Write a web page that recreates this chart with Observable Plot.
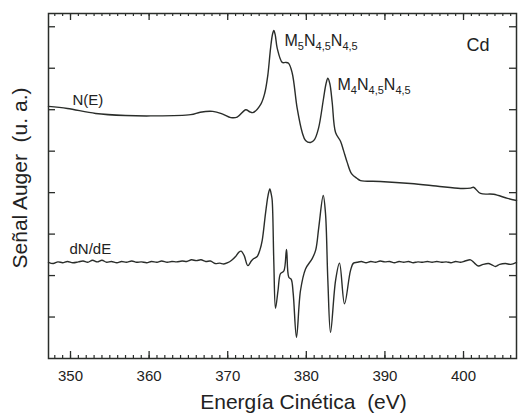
<!DOCTYPE html>
<html>
<head>
<meta charset="utf-8">
<script src="https://cdn.jsdelivr.net/npm/d3@7"></script>
<script src="https://cdn.jsdelivr.net/npm/@observablehq/plot@0.6"></script>
<style>
  html, body { margin: 0; padding: 0; background: #fff; }
</style>
</head>
<body>
<div id="chart"></div>
<script>
// ---- Data ----
const energyN = [347.2, 349.6, 353.2, 357.0, 360.2, 365.3, 366.5, 368.1, 369.3, 370.4, 371.2, 372.3, 372.8, 373.2, 374.2, 374.7, 375.1, 375.45, 375.7, 375.87, 376.05, 376.3, 376.94, 377.35, 377.74, 378.21, 378.84, 379.48, 379.9, 380.53, 381.04, 381.55, 382.19, 382.5, 382.74, 383.0, 383.29, 383.72, 384.35, 384.73, 385.2, 385.75, 386.47, 386.9, 389.4, 393.26, 396.5, 399.62, 400.9, 401.27, 402.16, 403.82, 405.6, 406.74];
const signalN = [6.08, 6.03, 5.91, 5.86, 5.85, 5.88, 5.94, 5.96, 5.90, 5.81, 5.82, 6.00, 5.95, 5.93, 6.13, 6.39, 6.83, 7.48, 7.82, 7.91, 7.80, 7.48, 7.14, 7.14, 7.12, 6.88, 6.03, 5.45, 5.26, 5.21, 5.28, 5.55, 6.27, 6.62, 6.76, 6.62, 6.18, 5.45, 5.24, 5.02, 4.73, 4.46, 4.34, 4.29, 4.27, 4.22, 4.16, 4.10, 4.11, 4.13, 3.98, 3.96, 3.86, 3.81];

const energyD = [347.2, 347.8, 348.4, 349.0, 349.6, 350.3, 351.0, 351.6, 352.2, 352.8, 353.4, 354.0, 354.6, 355.2, 355.9, 356.5, 357.1, 357.8, 358.4, 359.0, 359.7, 360.3, 361.0, 361.6, 362.3, 362.9, 363.5, 364.2, 364.8, 365.4, 366.0, 366.6, 367.2, 367.8, 368.4, 369.0, 369.5, 370.0, 370.5, 371.0, 371.4, 371.72, 372.1, 372.56, 373.0, 373.32, 373.75, 374.1, 374.39, 374.81, 375.13, 375.36, 375.55, 375.66, 375.87, 376.08, 376.4, 376.72, 377.14, 377.48, 377.77, 378.08, 378.33, 378.75, 379.26, 379.9, 380.75, 381.2, 381.59, 382.15, 382.44, 382.74, 383.08, 383.72, 384.22, 384.86, 385.62, 386.0, 386.47, 387.0, 387.6, 388.2, 388.8, 389.4, 390.0, 390.6, 391.2, 391.8, 392.4, 393.0, 393.6, 394.2, 394.8, 395.4, 396.0, 396.6, 397.2, 397.8, 398.4, 399.0, 399.6, 400.2, 400.89, 401.4, 401.91, 402.5, 403.18, 403.6, 404.07, 404.6, 405.34, 406.0, 406.74];
const signalD = [2.32, 2.29, 2.33, 2.31, 2.34, 2.31, 2.33, 2.35, 2.32, 2.37, 2.33, 2.37, 2.32, 2.34, 2.31, 2.34, 2.32, 2.35, 2.32, 2.33, 2.31, 2.34, 2.32, 2.35, 2.32, 2.34, 2.33, 2.35, 2.34, 2.38, 2.36, 2.38, 2.34, 2.35, 2.29, 2.30, 2.28, 2.31, 2.37, 2.46, 2.56, 2.59, 2.48, 2.24, 2.35, 2.41, 2.46, 2.62, 2.85, 3.50, 3.93, 4.09, 3.95, 3.81, 2.29, 1.21, 1.64, 2.05, 2.11, 2.63, 1.96, 1.91, 1.57, 0.51, 1.64, 2.16, 2.41, 2.62, 3.17, 3.93, 3.50, 1.88, 0.63, 1.88, 2.30, 1.32, 2.12, 2.30, 2.32, 2.34, 2.31, 2.34, 2.32, 2.35, 2.33, 2.34, 2.31, 2.34, 2.32, 2.34, 2.31, 2.33, 2.32, 2.34, 2.32, 2.34, 2.32, 2.33, 2.31, 2.34, 2.32, 2.35, 2.38, 2.30, 2.23, 2.27, 2.29, 2.26, 2.22, 2.27, 2.29, 2.27, 2.32];

const xMajorTicks = [350, 360, 370, 380, 390, 400];
const xMinorTicks = d3.range(348, 407, 1);
const yTicks = [1, 2, 3, 4, 5, 6, 7, 8];

const curveLabels = ["N(E)", "dN/dE"];
const curveLabelX = [350.25, 349.87];
const curveLabelY = [6.22, 2.63];
const peakLabels = ["M_5N_4,5N_4,5", "M_4N_4,5N_4,5"];
const peakLabelX = [377.23, 383.97];
const peakLabelY = [7.67, 6.59];
const elementLabel = "Cd";
const elementX = 401.84;
const elementY = 7.55;
const xTitle = "Energía Cinética  (eV)";
const yTitle = "Señal Auger  (u. a.)";

// ---- Build tables ----
const nE = energyN.map((e, i) => ({e, v: signalN[i]}));
const dNdE = energyD.map((e, i) => ({e, v: signalD[i]}));
const curveLab = curveLabels.map((t, i) => ({t, x: curveLabelX[i], y: curveLabelY[i]}));
const peakLab = peakLabels.map((t, i) => ({t, x: peakLabelX[i], y: peakLabelY[i]}));

// ---- Layout ----
const W = 519, H = 413;
const mL = 48, mR = 3, mT = 13, mB = 55;
const fw = W - mL - mR, fh = H - mT - mB;
const ink = "#2a2d2a";
const major = 7, minor = 3;

const chart = Plot.plot({
  width: W,
  height: H,
  marginLeft: mL, marginRight: mR, marginTop: mT, marginBottom: mB,
  style: {fontFamily: "'Liberation Sans', Arial, sans-serif", background: "#fff", color: ink},
  x: {domain: [347.2, 406.74]},
  y: {domain: [0, 8.32], axis: null},
  marks: [
    // inward ticks: bottom / top
    Plot.tickX(xMinorTicks, {x: d => d, insetTop: fh - minor, stroke: ink, strokeWidth: 1.2}),
    Plot.tickX(xMajorTicks, {x: d => d, insetTop: fh - major, stroke: ink, strokeWidth: 1.3}),
    Plot.tickX(xMinorTicks, {x: d => d, insetBottom: fh - minor, stroke: ink, strokeWidth: 1.2}),
    Plot.tickX(xMajorTicks, {x: d => d, insetBottom: fh - major, stroke: ink, strokeWidth: 1.3}),
    // inward ticks: left / right
    Plot.tickY(yTicks, {y: d => d, insetRight: fw - major, stroke: ink, strokeWidth: 1.3}),
    Plot.tickY(yTicks, {y: d => d, insetLeft: fw - major, stroke: ink, strokeWidth: 1.3}),
    Plot.frame({stroke: ink, strokeWidth: 1.5}),
    Plot.axisX(xMajorTicks, {tickSize: 0, tickPadding: 12, fontSize: 15, label: null, fill: "#222"}),
    // curves
    Plot.line(nE, {x: "e", y: "v", stroke: ink, strokeWidth: 1.4, curve: "catmull-rom"}),
    Plot.line(dNdE, {x: "e", y: "v", stroke: ink, strokeWidth: 1.4, curve: "catmull-rom"}),
    // labels
    Plot.text(curveLab, {x: "x", y: "y", text: "t", textAnchor: "start", fontSize: 15, fill: "#222"}),
    Plot.text(peakLab, {x: "x", y: "y", text: "t", textAnchor: "start", fontSize: 16, fill: "#222"}),
    Plot.text([elementLabel], {x: () => elementX, y: () => elementY, text: d => d, fontSize: 18, fill: "#222"}),
    Plot.text([xTitle], {frameAnchor: "bottom", textAnchor: "middle", lineAnchor: "middle", dy: 44, dx: 21, text: d => d, fontSize: 21, fill: "#222"}),
    Plot.text([yTitle], {frameAnchor: "left", textAnchor: "middle", lineAnchor: "middle", dx: -28, dy: -8, rotate: -90, text: d => d, fontSize: 21, fill: "#222"})
  ]
});

// subscripts in the peak labels
d3.select(chart).selectAll("text").filter(function() { return this.textContent.includes("_"); })
  .each(function() {
    const s = this.textContent;
    const el = d3.select(this);
    el.text(null);
    const re = /([A-Za-z]+)_([0-9,]+)/g;
    let m, shifted = false;
    while ((m = re.exec(s)) !== null) {
      el.append("tspan").attr("dy", shifted ? -4 : null).text(m[1]);
      el.append("tspan").attr("dy", 4).attr("font-size", 11).text(m[2]);
      shifted = true;
    }
  });

document.getElementById("chart").appendChild(chart);
</script>
</body>
</html>
